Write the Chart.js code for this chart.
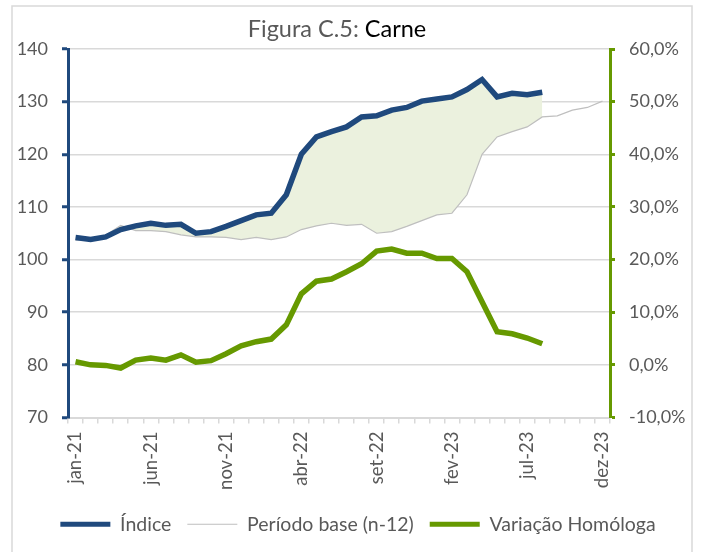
<!DOCTYPE html>
<html>
<head>
<meta charset="utf-8">
<script src="https://cdn.jsdelivr.net/npm/chart.js@4"></script>
<style>
  html, body { margin: 0; padding: 0; background: #fff; }
  #chart { display: block; }
</style>
</head>
<body>
<canvas id="chart" width="702" height="552"></canvas>
<script>
const months = [
  'jan-21', 'fev-21', 'mar-21', 'abr-21', 'mai-21', 'jun-21', 'jul-21', 'ago-21', 'set-21', 'out-21', 'nov-21', 'dez-21',
  'jan-22', 'fev-22', 'mar-22', 'abr-22', 'mai-22', 'jun-22', 'jul-22', 'ago-22', 'set-22', 'out-22', 'nov-22', 'dez-22',
  'jan-23', 'fev-23', 'mar-23', 'abr-23', 'mai-23', 'jun-23', 'jul-23', 'ago-23', 'set-23', 'out-23', 'nov-23', 'dez-23'
];

// Índice (jan-21 .. ago-23)
const indice = [
  104.2, 103.8, 104.3, 105.7, 106.4, 106.9, 106.5, 106.7, 105.0, 105.3, 106.3, 107.4,
  108.5, 108.8, 112.3, 120.0, 123.3, 124.3, 125.2, 127.1, 127.3, 128.4, 128.9, 130.1,
  130.5, 130.9, 132.3, 134.2, 130.9, 131.6, 131.3, 131.8
];

// Período base (n-12), jan-21 .. dez-23
const periodoBase = [
  103.7, 103.9, 104.6, 106.5, 105.5, 105.5, 105.3, 104.7, 104.3, 104.3, 104.2, 103.8,
  104.2, 103.8, 104.3, 105.7, 106.4, 106.9, 106.5, 106.7, 105.0, 105.3, 106.3, 107.4,
  108.5, 108.8, 112.3, 120.0, 123.3, 124.3, 125.2, 127.1, 127.3, 128.4, 128.9, 130.1
];

// Variação Homóloga (%), jan-21 .. ago-23
const variacao = [
  0.6, 0.0, -0.1, -0.6, 0.9, 1.3, 0.9, 1.9, 0.5, 0.8, 2.1, 3.6,
  4.4, 4.9, 7.6, 13.5, 15.9, 16.3, 17.7, 19.2, 21.6, 22.0, 21.2, 21.2,
  20.2, 20.2, 17.7, 12.0, 6.3, 5.9, 5.1, 4.0
];

const BLUE = '#1F497D';
const GREEN = '#669900';
const GREY_LINE = '#BFBFBF';
const FILL = '#EBF1DE';
const TEXT = '#595959';
const GRID = '#D9D9D9';
const FONT = 'Lato';

// title in two colours + outer frame
const frameAndTitle = {
  id: 'frameAndTitle',
  beforeDraw(chart) {
    const ctx = chart.ctx;
    ctx.save();
    ctx.strokeStyle = GRID;
    ctx.lineWidth = 1.5;
    ctx.strokeRect(12, 6, 680, 560);
    ctx.restore();
  },
  afterDraw(chart) {
    const ctx = chart.ctx;
    ctx.save();
    ctx.font = '23.5px ' + FONT;
    ctx.textBaseline = 'alphabetic';
    const a = 'Figura C.5: ';
    const b = 'Carne';
    const wa = ctx.measureText(a).width;
    const wb = ctx.measureText(b).width;
    let x = 337 - (wa + wb) / 2;
    ctx.fillStyle = TEXT;
    ctx.fillText(a, x, 37);
    ctx.fillStyle = '#000';
    ctx.fillText(b, x + wa, 37);
    ctx.restore();
  }
};

new Chart(document.getElementById('chart'), {
  type: 'line',
  data: {
    labels: months,
    datasets: [
      {
        label: 'Índice',
        data: indice,
        yAxisID: 'y',
        borderColor: BLUE,
        borderWidth: 5.5,
        pointRadius: 0,
        tension: 0,
        fill: { target: 1, above: FILL, below: FILL }
      },
      {
        label: 'Período base (n-12)',
        data: periodoBase,
        yAxisID: 'y',
        borderColor: GREY_LINE,
        borderWidth: 1.2,
        pointRadius: 0,
        tension: 0,
        fill: false
      },
      {
        label: 'Variação Homóloga',
        data: variacao,
        yAxisID: 'y1',
        borderColor: GREEN,
        borderWidth: 5.5,
        pointRadius: 0,
        tension: 0,
        fill: false
      }
    ]
  },
  options: {
    responsive: false,
    animation: false,
    layout: { padding: { top: 49, left: 14, right: 0, bottom: 8 } },
    plugins: {
      filler: { drawTime: 'beforeDatasetsDraw' },
      tooltip: { enabled: false },
      legend: {
        position: 'bottom',
        labels: {
          usePointStyle: true,
          pointStyleWidth: 50,
          padding: 16,
          color: TEXT,
          font: { family: FONT, size: 19.5 },
          generateLabels: chart => chart.data.datasets.map((ds, i) => ({
            text: ds.label,
            datasetIndex: i,
            pointStyle: 'line',
            strokeStyle: ds.borderColor,
            fillStyle: ds.borderColor,
            lineWidth: ds.borderWidth > 2 ? 5 : 1,
            fontColor: TEXT,
            hidden: false
          }))
        }
      }
    },
    scales: {
      x: {
        offset: true,
        grid: { offset: true, drawOnChartArea: false, color: GRID, tickLength: 6, lineWidth: 1.5 },
        border: { color: GRID, width: 2 },
        ticks: {
          autoSkip: false,
          minRotation: 90,
          maxRotation: 90,
          padding: 8,
          color: TEXT,
          font: { family: FONT, size: 18.5 },
          callback: function (v, i) { return i % 5 === 0 ? months[i] : ''; }
        },
        afterFit: s => { s.height = 81; }
      },
      y: {
        position: 'left',
        min: 70,
        max: 140,
        ticks: { stepSize: 10, color: TEXT, padding: 14, font: { family: FONT, size: 18 } },
        grid: { color: GRID, lineWidth: 1.5, tickColor: BLUE, tickWidth: 3, tickLength: 6 },
        border: { color: BLUE, width: 3 },
        afterFit: s => { s.width = 54; }
      },
      y1: {
        position: 'right',
        min: -10,
        max: 60,
        ticks: {
          stepSize: 10,
          color: TEXT,
          padding: 14,
          font: { family: FONT, size: 18 },
          callback: v => v.toFixed(1).replace('.', ',') + '%'
        },
        grid: { drawOnChartArea: false, tickColor: GREEN, tickWidth: 3, tickLength: 5 },
        border: { color: GREEN, width: 3 },
        afterFit: s => { s.width = 92; }
      }
    }
  },
  plugins: [frameAndTitle]
});
</script>
</body>
</html>
